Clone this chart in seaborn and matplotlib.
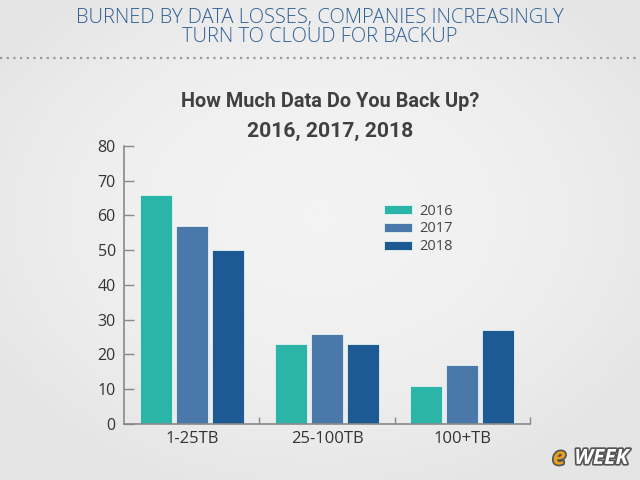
import numpy as np
import pandas as pd
import matplotlib.pyplot as plt
import matplotlib.patheffects as pe
import seaborn as sns

# Datos
categorias = ['1-25TB', '25-100TB', '100+TB']
anios = ['2016', '2017', '2018']
valores_2016 = [66, 23, 11]
valores_2017 = [57, 26, 17]
valores_2018 = [50, 23, 27]
colores = ['#2bb5a8', '#4a78a8', '#1d5992']

datos = pd.DataFrame({
    'categoria': categorias * 3,
    'anio': [a for a in anios for _ in categorias],
    'valor': valores_2016 + valores_2017 + valores_2018,
})

sns.set_style('white')
plt.rcParams['font.family'] = ['Open Sans', 'DejaVu Sans']

fig = plt.figure(figsize=(6.4, 4.8), dpi=100)
fig.patch.set_facecolor('#e8e8e8')

# Fondo con un degradado suave
fondo = fig.add_axes([0, 0, 1, 1], zorder=-10)
yy, xx = np.mgrid[0:1:200j, 0:1:200j]
grad = 1 - 0.9 * np.clip(((xx - 0.5) ** 2 + (yy - 0.45) ** 2) / 0.35, 0, 1)
fondo.imshow(grad, cmap=sns.blend_palette(['#e4e4e4', '#f3f3f3'], as_cmap=True),
             extent=[0, 1, 0, 1], aspect='auto', vmin=0, vmax=1)
fondo.axis('off')

# Encabezado
fig.text(0.5, 0.962, 'BURNED BY DATA LOSSES, COMPANIES INCREASINGLY',
         ha='center', va='center', fontsize=14.5, color='#2f5f94', fontweight='light')
fig.text(0.5, 0.922, 'TURN TO CLOUD FOR BACKUP',
         ha='center', va='center', fontsize=14.5, color='#2f5f94', fontweight='light')
fig.add_artist(plt.Line2D([0, 1], [0.879, 0.879], transform=fig.transFigure,
                          color='#9a9a9a', linestyle=(0, (1, 2)), linewidth=1.6))

# Titulo del grafico
fig.text(0.516, 0.789, 'How Much Data Do You Back Up?', ha='center', va='center',
         fontsize=14.3, fontweight='bold', color='#404040',
         family=['Roboto', 'DejaVu Sans'])
fig.text(0.516, 0.727, '2016, 2017, 2018', ha='center', va='center',
         fontsize=15.2, fontweight='bold', color='#404040',
         family=['Roboto', 'DejaVu Sans'])

ax = fig.add_axes([0.194, 0.117, 0.634, 0.579])
ax.set_facecolor('none')
sns.barplot(data=datos, x='categoria', y='valor', hue='anio', palette=colores,
            saturation=1, width=0.8, gap=0.11, ax=ax,
            edgecolor='#e6f3f1', linewidth=0.6)

ax.set_xlim(-0.5, 2.5)
ax.set_ylim(0, 80)
ax.set_yticks(range(0, 81, 10))
ax.set_xlabel('')
ax.set_ylabel('')
ax.tick_params(axis='y', direction='in', length=7, width=1, color='#888888',
               labelsize=11.5, labelcolor='#333333', pad=6, left=True)
ax.tick_params(axis='x', length=0, labelsize=12, labelcolor='#333333', pad=5)
ax.set_xticks([0.5, 1.5, 2.5], minor=True)
ax.tick_params(axis='x', which='minor', direction='in', length=5, width=1,
               color='#888888', bottom=True)
for lado in ['top', 'right']:
    ax.spines[lado].set_visible(False)
for lado in ['left', 'bottom']:
    ax.spines[lado].set_color('#888888')
    ax.spines[lado].set_linewidth(1.2)

# Leyenda
leg = ax.legend(loc='upper left', bbox_to_anchor=(0.608, 0.84), frameon=False,
                fontsize=10.5, handlelength=1.9, handleheight=0.6,
                labelspacing=0.2, handletextpad=0.5)
for t in leg.get_texts():
    t.set_color('#444444')

# Logo
sombra = [pe.withStroke(linewidth=2.5, foreground='#555555')]
fig.text(0.982, 0.045, 'WEEK', ha='right', va='center', fontsize=15,
         fontweight='bold', style='italic', color='white', path_effects=sombra)
fig.text(0.884, 0.045, 'e', ha='right', va='center', fontsize=17,
         fontweight='bold', style='italic', color='#e8a020', path_effects=sombra)

fig.savefig('out.png', dpi=100, facecolor=fig.get_facecolor())
